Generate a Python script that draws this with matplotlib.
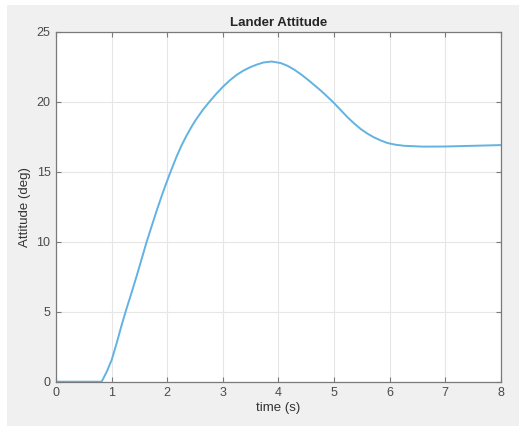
import matplotlib
matplotlib.use("Agg")
import matplotlib.pyplot as plt
from matplotlib.patches import Rectangle

# Lander attitude response over time
time_s = [0, 0.82, 0.91, 1.0, 1.09, 1.18, 1.27, 1.33, 1.45, 1.63, 1.8, 1.92,
          2.05, 2.17, 2.26, 2.35, 2.45, 2.53, 2.65, 2.77, 2.89, 3.01, 3.13,
          3.25, 3.37, 3.49, 3.61, 3.73, 3.88, 4.04, 4.16, 4.28, 4.4, 4.52,
          4.64, 4.76, 4.88, 5.0, 5.12, 5.24, 5.36, 5.48, 5.6, 5.72, 5.84,
          5.96, 6.1, 6.26, 6.6, 7.0, 7.5, 8.0]
attitude_deg = [0, 0, 0.7, 1.55, 2.75, 4.05, 5.25, 6.0, 7.55, 10.0, 12.1, 13.5,
                14.9, 16.1, 16.9, 17.6, 18.3, 18.8, 19.47, 20.05, 20.6, 21.1,
                21.54, 21.92, 22.22, 22.46, 22.65, 22.8, 22.87, 22.76, 22.57,
                22.3, 21.97, 21.6, 21.2, 20.8, 20.36, 19.9, 19.4, 18.9, 18.45,
                18.05, 17.72, 17.45, 17.23, 17.05, 16.93, 16.85, 16.79, 16.8,
                16.85, 16.9]
x_ticks = [0, 1, 2, 3, 4, 5, 6, 7, 8]
y_ticks = [0, 5, 10, 15, 20, 25]

plt.rcParams['font.family'] = ['Liberation Sans', 'DejaVu Sans']

fig = plt.figure(figsize=(5.19, 4.26), dpi=100, facecolor='white')
fig.patches.append(Rectangle((7 / 519, 0), 1 - 7 / 519, 1 - 5 / 426,
                             transform=fig.transFigure, facecolor='#f0f0f0',
                             edgecolor='none', zorder=-10))

ax = fig.add_axes([0.108, 0.104, 0.857, 0.8216])
ax.set_zorder(1)
ax.set_facecolor('white')
ax.plot(time_s, attitude_deg, color='#62b2e2', linewidth=1.4,
        solid_joinstyle='round')

ax.set_xlim(0, 8)
ax.set_ylim(0, 25)
ax.set_xticks(x_ticks)
ax.set_yticks(y_ticks)
ax.grid(True, color='#e6e6e6', linewidth=0.8)
ax.set_axisbelow(True)

for s in ax.spines.values():
    s.set_color('#7a7a7a')
    s.set_linewidth(0.9)
ax.tick_params(direction='in', top=True, right=True, length=3.5,
               color='#7a7a7a', labelcolor='#4a4a4a', labelsize=9, pad=4)

ax.set_title('Lander Attitude', fontsize=9.5, fontweight='bold', color='#262626', pad=4)
ax.set_xlabel('time (s)', fontsize=9.5, color='#333333', labelpad=2)
ax.set_ylabel('Attitude (deg)', fontsize=9.5, color='#333333', labelpad=4)

fig.savefig('out.png', dpi=100, facecolor=fig.get_facecolor())
